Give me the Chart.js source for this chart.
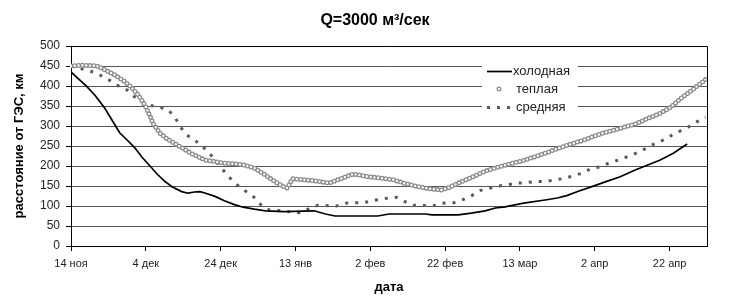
<!DOCTYPE html>
<html>
<head>
<meta charset="utf-8">
<script src="https://cdn.jsdelivr.net/npm/chart.js@4"></script>
<style>
    html, body { margin: 0; padding: 0; background: #fff; }
</style>
</head>
<body>
<canvas id="chart" width="729" height="298"></canvas>
<script>
// date tick labels, one every 20 days starting 14 Nov
var dateLabels = ['14 ноя', '4 дек', '24 дек', '13 янв', '2 фев', '22 фев', '13 мар', '2 апр', '22 апр'];
var seriesNames = ['холодная', 'теплая', 'средняя'];

// day number (0 = 14 ноя) and distance, km
var coldDays = [0, 2, 4, 6.4, 9, 11.8, 13, 15, 17, 19, 21.6, 23, 25, 27, 29.6, 31.3, 33, 34.5, 36, 38.5,
    41, 43.5, 46, 49, 52, 57, 62, 65, 68, 70.6, 76, 82, 85, 94.7, 96.5, 103.5, 107, 110.7, 113.4, 116,
    121, 126.7, 130, 132.5, 135.6, 140, 143, 146.8, 150.8, 154, 157.5, 161, 164.7];
var coldValues = [435, 418, 401, 377, 345, 302, 283, 265, 246, 222, 195, 180, 162, 148, 136, 132, 135, 136, 132, 124,
    113, 104, 97, 92, 88, 86, 87, 88, 80, 75, 75, 75, 80, 80, 78, 78, 82, 88, 95, 98,
    107, 115, 120, 126, 137, 151, 161, 173, 190, 202, 215, 232, 255];

var warmDays = [0, 3, 7, 9, 11.8, 14.4, 16, 18, 19.8, 21, 22, 24, 26, 28, 32, 35.8, 38.5, 41, 44, 46.5,
    49, 52, 54.5, 56.5, 57.8, 59.2, 62, 66, 69, 72, 75.5, 79, 82.6, 86, 89, 93, 96, 99, 101, 103,
    106.7, 109, 111, 113.4, 116, 121.4, 126.7, 132, 137.4, 141.4, 146, 150.8, 154, 157.5, 160, 163, 166.6, 170];
var warmValues = [450, 452, 450, 441, 427, 411, 398, 377, 352, 327, 305, 280, 266, 255, 232, 215, 211, 207, 205, 202,
    195, 177, 161, 150, 145, 168, 166, 162, 157, 168, 180, 174, 170, 166, 157, 148, 143, 140, 146, 155,
    170, 180, 188, 195, 202, 215, 232, 250, 266, 280, 292, 305, 318, 332, 345, 369, 394, 419];

var midDays = [0, 1.5, 4, 7, 9, 11, 13, 15, 17, 19, 21, 24, 26, 27.8, 29.2, 31, 33, 35, 37, 40,
    42.5, 45, 47, 49.5, 51, 53, 56, 61, 66, 71, 73.5, 78.5, 81.5, 84, 87, 89, 91.5, 94, 97, 99,
    102.3, 104.5, 107, 109, 111.6, 114.4, 116, 119, 121.4, 124, 126.7, 129, 132, 134, 137, 139, 141.4, 144,
    147, 149.8, 152, 154.3, 156.2, 158.4, 160.6, 162.9, 165.1, 167.4, 169.6];
var midValues = [450, 446, 440, 432, 420, 411, 398, 390, 373, 361, 352, 346, 340, 322, 298, 277, 265, 250, 232, 197,
    170, 148, 135, 118, 100, 90, 88, 83, 102, 100, 107, 109, 115, 119, 122, 112, 102, 101, 101, 107,
    108, 115, 125, 138, 144, 150, 152, 157, 158, 161, 161, 165, 169, 175, 183, 194, 198, 208,
    217, 227, 236, 247, 257, 265, 277, 288, 298, 311, 322];

function toPoints(days, values) {
    return days.map(function (d, i) { return { x: d, y: values[i] }; });
}

Chart.defaults.font.family = '"Liberation Sans", Arial, sans-serif';
Chart.defaults.color = '#222';

// white centres for the "теплая" dots so they look like rings
var ringPlugin = {
    id: 'rings',
    afterDatasetDraw: function (chart, args) {
        var ds = chart.data.datasets[args.index];
        if (ds.label !== seriesNames[1]) return;
        var pts = args.meta.data;
        var ctx = chart.ctx;
        ctx.save();
        ctx.beginPath();
        pts.forEach(function (p, i) {
            if (i === 0) ctx.moveTo(p.x, p.y); else ctx.lineTo(p.x, p.y);
        });
        ctx.setLineDash(ds.borderDash);
        ctx.lineDashOffset = 0;
        ctx.lineCap = 'round';
        ctx.lineWidth = 2.4;
        ctx.strokeStyle = '#fff';
        ctx.stroke();
        ctx.restore();
    }
};

// frame, legend box and title
var decorPlugin = {
    id: 'decor',
    beforeDatasetsDraw: function (chart) {
        var a = chart.chartArea, ctx = chart.ctx;
        ctx.save();
        ctx.strokeStyle = '#000';
        ctx.lineWidth = 1;
        ctx.beginPath();
        ctx.moveTo(a.left, a.top + 0.5);
        ctx.lineTo(a.right + 0.5, a.top + 0.5);
        ctx.lineTo(a.right + 0.5, a.bottom);
        ctx.stroke();
        ctx.restore();
    },
    afterDatasetsDraw: function (chart) {
        var ctx = chart.ctx;
        var sets = chart.data.datasets;
        ctx.save();
        ctx.fillStyle = '#fff';
        ctx.fillRect(482, 60, 96, 55);
        ctx.font = '13px "Liberation Sans", Arial, sans-serif';
        ctx.textBaseline = 'middle';
        ctx.textAlign = 'left';
        for (var i = 0; i < sets.length; i++) {
            var ds = sets[i];
            var y = 71 + i * 18;
            ctx.strokeStyle = ds.borderColor;
            if (i === 1) {
                ctx.setLineDash([]);
                ctx.lineWidth = 1.2;
                ctx.beginPath();
                ctx.arc(499, y, 1.9, 0, Math.PI * 2);
                ctx.stroke();
            } else {
                ctx.lineWidth = ds.borderWidth;
                ctx.setLineDash(ds.borderDash || []);
                ctx.lineCap = 'butt';
                ctx.beginPath();
                ctx.moveTo(487, y + 0.5);
                ctx.lineTo(512, y + 0.5);
                ctx.stroke();
            }
            ctx.setLineDash([]);
            ctx.fillStyle = '#222';
            ctx.fillText(ds.label, i === 0 ? 513 : 516, y);
        }
        ctx.restore();
    },
    afterDraw: function (chart) {
        var ctx = chart.ctx;
        ctx.save();
        ctx.font = 'bold 16px "Liberation Sans", Arial, sans-serif';
        ctx.fillStyle = '#000';
        ctx.textAlign = 'center';
        ctx.textBaseline = 'middle';
        ctx.fillText('Q=3000 м³/сек', 375, 21);
        ctx.restore();
    }
};

var ctx = document.getElementById('chart').getContext('2d');
var myChart = new Chart(ctx, {
    type: 'line',
    data: {
        datasets: [{
            label: seriesNames[0],
            data: toPoints(coldDays, coldValues),
            borderColor: '#000',
            borderWidth: 1.7,
            borderDash: [],
            pointRadius: 0,
            tension: 0,
            fill: false
        }, {
            label: seriesNames[1],
            data: toPoints(warmDays, warmValues),
            borderColor: '#8a8a8a',
            borderWidth: 5,
            borderDash: [0, 3.8],
            borderCapStyle: 'round',
            pointRadius: 0,
            tension: 0,
            fill: false
        }, {
            label: seriesNames[2],
            data: toPoints(midDays, midValues),
            borderColor: '#5a5a5a',
            borderWidth: 3,
            borderDash: [3, 7],
            borderCapStyle: 'butt',
            pointRadius: 0,
            tension: 0,
            fill: false
        }]
    },
    options: {
        responsive: false,
        devicePixelRatio: 1,
        animation: false,
        layout: { padding: { top: 46, right: 22, left: 0, bottom: 0 } },
        plugins: {
            legend: { display: false },
            title: { display: false },
            tooltip: { enabled: false }
        },
        scales: {
            x: {
                type: 'linear',
                min: 0,
                max: 170,
                afterFit: function (s) { s.height = 52; },
                ticks: {
                    stepSize: 20,
                    includeBounds: false,
                    autoSkip: false,
                    maxRotation: 0,
                    padding: 6,
                    font: { size: 11 },
                    callback: function (value) {
                        return value % 20 === 0 ? dateLabels[value / 20] : '';
                    }
                },
                grid: { drawOnChartArea: false, tickLength: 5, color: '#000' },
                border: { color: '#000' },
                title: {
                    display: true,
                    text: 'дата',
                    color: '#000',
                    font: { size: 13, weight: 'bold' },
                    padding: { top: 0, bottom: 3 }
                }
            },
            y: {
                min: 0,
                max: 500,
                afterFit: function (s) { s.width = 71; },
                ticks: { stepSize: 50, padding: 6, font: { size: 12 } },
                grid: { color: '#555', tickColor: '#000', tickLength: 5 },
                border: { color: '#000' },
                title: {
                    display: true,
                    text: 'расстояние от ГЭС, км',
                    color: '#000',
                    font: { size: 13, weight: 'bold' },
                    padding: { top: 12, bottom: 0 }
                }
            }
        }
    },
    plugins: [ringPlugin, decorPlugin]
});
</script>
</body>
</html>
